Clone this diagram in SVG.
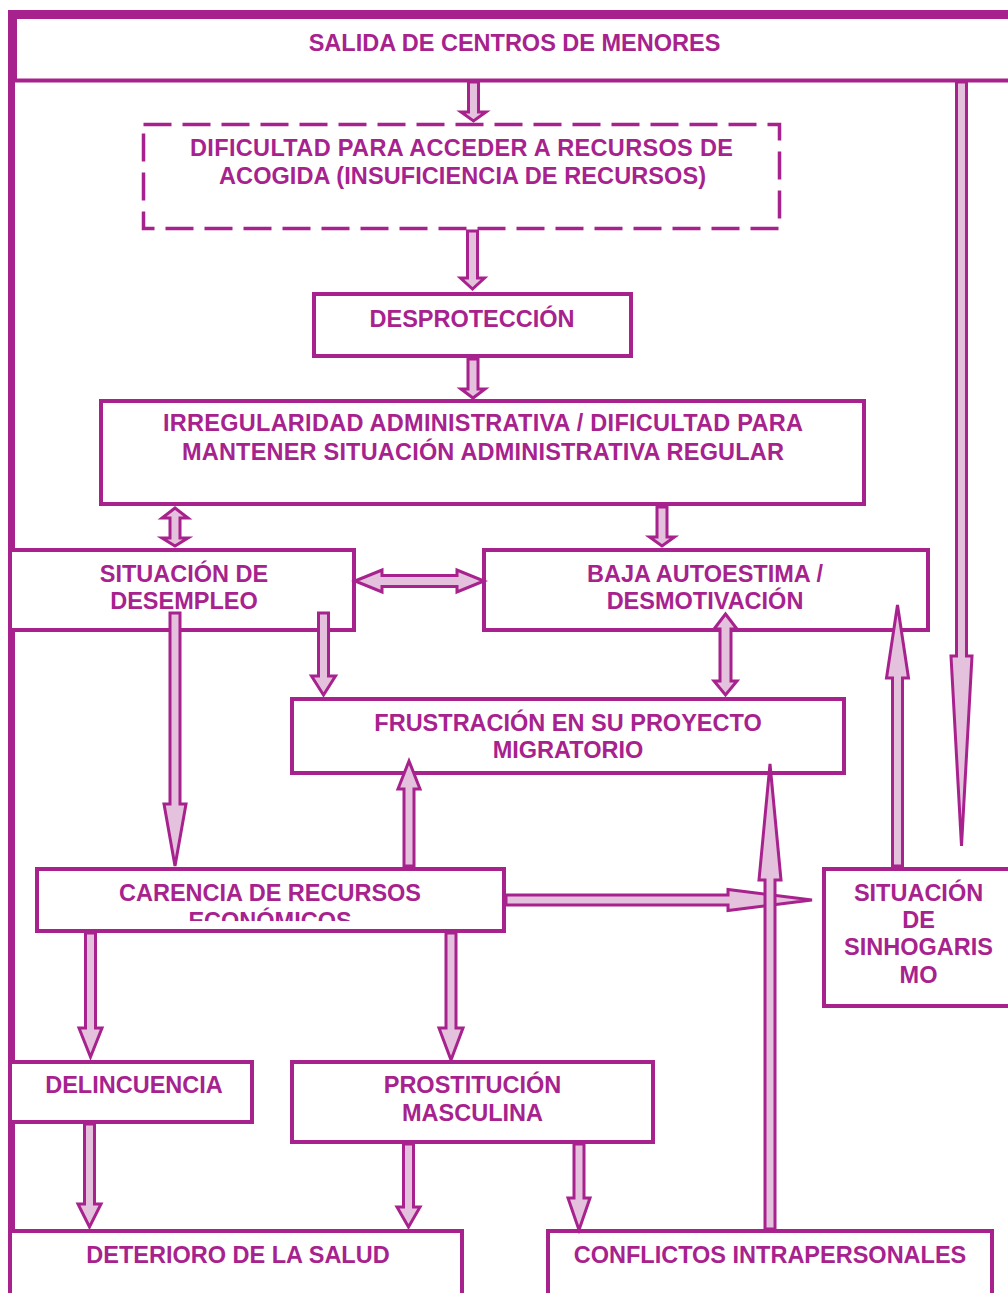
<svg xmlns="http://www.w3.org/2000/svg" width="1008" height="1293" viewBox="0 0 1008 1293">
<defs>
<style>
.box{fill:#ffffff;stroke:#A8228E;stroke-width:4}
.dash{fill:#ffffff;stroke:#A8228E;stroke-width:3.5;stroke-dasharray:28 11}
.ln{stroke:#A8228E;fill:none}
.t{font-family:"Liberation Sans",Arial,sans-serif;font-weight:bold;font-size:23.5px;fill:#A8228E;text-anchor:middle}
.ar{fill:#E4C1DD;stroke:#A8228E;stroke-width:3;stroke-linejoin:miter}
</style>
<clipPath id="clipCar"><rect x="37" y="869" width="467" height="52"/></clipPath>
</defs>
<rect x="0" y="0" width="1008" height="1293" fill="#ffffff"/>
<g id="frame">
<line class="ln" x1="11.5" y1="80" x2="11.5" y2="1293" stroke-width="7"/>
</g>
<g id="n-salida">
<rect x="12" y="14" width="1000" height="66" fill="#ffffff"/>
<line class="ln" x1="8" y1="14.5" x2="1008" y2="14.5" stroke-width="9"/>
<line class="ln" x1="12.5" y1="10" x2="12.5" y2="82" stroke-width="9"/>
<line class="ln" x1="8" y1="80.5" x2="1008" y2="80.5" stroke-width="4"/>
<text class="t" x="514.5" y="51">SALIDA DE CENTROS DE MENORES</text>
</g>
<g id="n-dificultad">
<rect class="dash" x="143.5" y="124.5" width="636" height="104"/>
<text class="t" x="461.5" y="156" textLength="543" lengthAdjust="spacing">DIFICULTAD PARA ACCEDER A RECURSOS DE</text>
<text class="t" x="462.5" y="184" textLength="487" lengthAdjust="spacing">ACOGIDA (INSUFICIENCIA DE RECURSOS)</text>
</g>
<g id="n-desproteccion">
<rect class="box" x="314" y="294" width="317" height="62"/>
<text class="t" x="472" y="327">DESPROTECCIÓN</text>
</g>
<g id="n-irregularidad">
<rect class="box" x="101" y="401" width="763" height="103"/>
<text class="t" x="483" y="431" textLength="640" lengthAdjust="spacing">IRREGULARIDAD ADMINISTRATIVA / DIFICULTAD PARA</text>
<text class="t" x="483" y="459.5" textLength="602" lengthAdjust="spacing">MANTENER SITUACIÓN ADMINISTRATIVA REGULAR</text>
</g>
<g id="n-desempleo">
<rect class="box" x="10" y="550" width="344" height="80"/>
<text class="t" x="184" y="582">SITUACIÓN DE</text>
<text class="t" x="184" y="609">DESEMPLEO</text>
</g>
<g id="n-autoestima">
<rect class="box" x="484" y="550" width="444" height="80"/>
<text class="t" x="705" y="582">BAJA AUTOESTIMA /</text>
<text class="t" x="705" y="609">DESMOTIVACIÓN</text>
</g>
<g id="n-frustracion">
<rect class="box" x="292" y="699" width="552" height="74"/>
<text class="t" x="568" y="731">FRUSTRACIÓN EN SU PROYECTO</text>
<text class="t" x="568" y="758">MIGRATORIO</text>
</g>
<g id="n-carencia">
<rect class="box" x="37" y="869" width="467" height="62"/>
<text class="t" x="270" y="901">CARENCIA DE RECURSOS</text>
<text class="t" x="270" y="929" clip-path="url(#clipCar)">ECONÓMICOS</text>
</g>
<g id="n-sinhogarismo">
<rect class="box" x="824" y="869" width="200" height="137"/>
<text class="t" x="918.5" y="901">SITUACIÓN</text>
<text class="t" x="918.5" y="928">DE</text>
<text class="t" x="918.5" y="955">SINHOGARIS</text>
<text class="t" x="918.5" y="983">MO</text>
</g>
<g id="n-delincuencia">
<rect class="box" x="10" y="1062" width="242" height="60"/>
<text class="t" x="134" y="1093">DELINCUENCIA</text>
</g>
<g id="n-prostitucion">
<rect class="box" x="292" y="1062" width="361" height="80"/>
<text class="t" x="472.5" y="1093">PROSTITUCIÓN</text>
<text class="t" x="472.5" y="1121">MASCULINA</text>
</g>
<g id="n-deterioro">
<rect class="box" x="10" y="1231" width="452" height="100"/>
<text class="t" x="238" y="1263">DETERIORO DE LA SALUD</text>
</g>
<g id="n-conflictos">
<rect class="box" x="548" y="1231" width="444" height="100"/>
<text class="t" x="770" y="1263">CONFLICTOS INTRAPERSONALES</text>
</g>
<g id="connectors">
<polygon class="ar" points="468.5,82 478.5,82 478.5,112 486,112 473.5,121 461,112 468.5,112"/>
<polygon class="ar" points="467.5,231 477.5,231 477.5,278 484.5,278 472.5,289 460.5,278 467.5,278"/>
<polygon class="ar" points="468,359 478,359 478,389 485,389 473,398 461,389 468,389"/>
<polygon class="ar" points="175,508 188,518 180,518 180,538 188,538 175,546 162,538 170,538 170,518 162,518"/>
<polygon class="ar" points="657,507 667,507 667,537 674.5,537 662,546 649.5,537 657,537"/>
<polygon class="ar" points="355,581 382,570 382,575.5 457,575.5 457,570 484,581 457,592 457,586.5 382,586.5 382,592"/>
<polygon class="ar" points="170,613 180,613 180,804 186,804 175,866 164,804 170,804"/>
<polygon class="ar" points="318.5,613 328.5,613 328.5,676 335.5,676 323.5,695 311.5,676 318.5,676"/>
<polygon class="ar" points="725.5,614 737,629 731,629 731,681 737,681 725.5,695 714,681 720,681 720,629 714,629"/>
<polygon class="ar" points="892.5,866 902.5,866 902.5,678 908.5,678 897.5,605 886.5,678 892.5,678"/>
<polygon class="ar" points="956.5,82 966.5,82 966.5,656 972,656 961.5,846 951,656 956.5,656"/>
<polygon class="ar" points="404,866 414,866 414,789 420,789 409,761 398,789 404,789"/>
<polygon class="ar" points="506,895 728,895 728,889.5 812,900 728,910.5 728,905 506,905"/>
<polygon class="ar" points="765,1229 775,1229 775,880 781,880 770,764 759,880 765,880"/>
<polygon class="ar" points="85.5,933 95.5,933 95.5,1028 102,1028 90.5,1057 79,1028 85.5,1028"/>
<polygon class="ar" points="446,933 456,933 456,1028 463,1028 451,1060 439,1028 446,1028"/>
<polygon class="ar" points="84.5,1124 94.5,1124 94.5,1204 101,1204 89.5,1227 78,1204 84.5,1204"/>
<polygon class="ar" points="403.5,1144 413.5,1144 413.5,1207 420,1207 408.5,1227 397,1207 403.5,1207"/>
<polygon class="ar" points="574,1144 584,1144 584,1198 590,1198 579,1230 568,1198 574,1198"/>
</g>
</svg>
